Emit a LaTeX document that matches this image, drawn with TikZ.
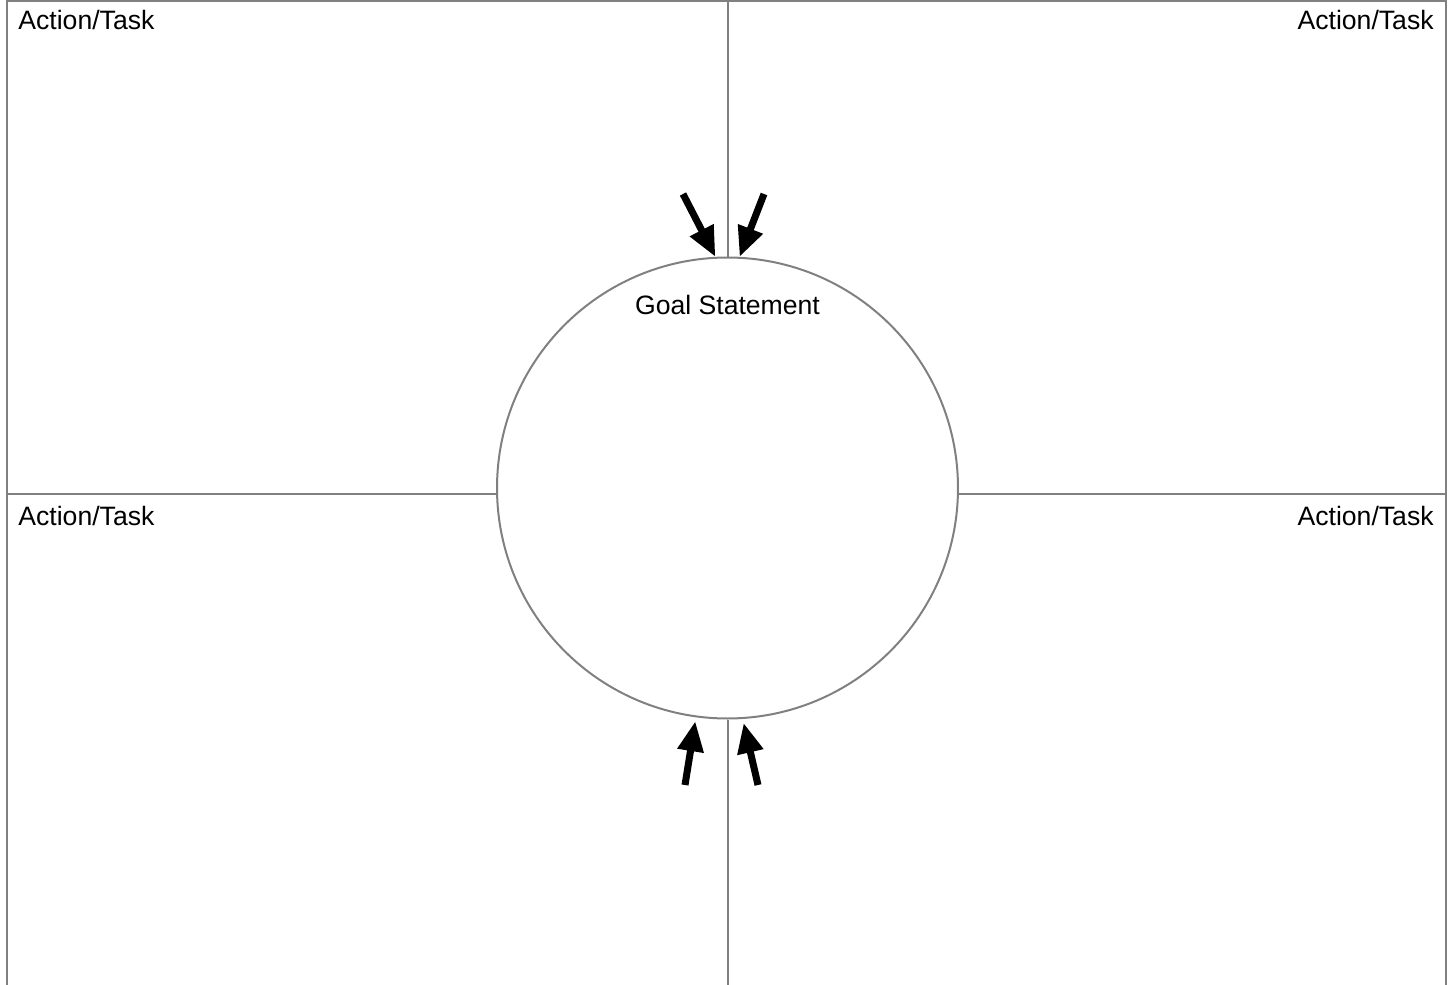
\documentclass[tikz,border=0pt]{standalone}
\usepackage{fontspec}
\setmainfont{Liberation Sans}
\usetikzlibrary{arrows.meta,positioning}

\begin{document}
\begin{tikzpicture}[
  x=0.5pt, y=-0.5pt,
  font=\fontsize{13.3pt}{16pt}\selectfont,
  frame/.style={draw=black!50, line width=1pt},
  goal/.style={circle, draw=black!50, line width=1pt, minimum size=230.5pt, inner sep=0pt},
  tasklbl/.style={inner sep=0pt, text=black},
  push/.style={-{Triangle[length=15pt, width=12.5pt]}, line width=3.5pt, draw=black}
]
  \useasboundingbox (0,0) rectangle (1448,985);

  % --- outer frame (open at the bottom) ---
  \draw[frame] (7,985) -- (7,1) -- (1446,1) -- (1446,985);

  % --- central goal circle ---
  \node[goal] (goal) at (727.5,488) {};
  \node[tasklbl, anchor=base] (gtext) at (727.5,314.5) {Goal Statement};

  % --- quadrant dividers ---
  \draw[frame] (goal.north |- 0,1) -- (goal.north);
  \draw[frame] (goal.south) -- (goal.south |- 0,985);
  \draw[frame] (7,494) -- (goal.west |- 0,494);
  \draw[frame] (goal.east |- 0,494) -- (1446,494);

  % --- quadrant labels ---
  \node[tasklbl, anchor=base west] (tl) at (18,29.5) {Action/Task};
  \node[tasklbl, anchor=base east] (tr) at (1434,29.5) {Action/Task};
  \node[tasklbl, anchor=base west] (bl) at (18,525) {Action/Task};
  \node[tasklbl, anchor=base east] (br) at (1434,525) {Action/Task};

  % --- arrows pointing at the goal ---
  \coordinate (atl) at (683,194);
  \coordinate (atr) at (764,194);
  \coordinate (abl) at (685,785);
  \coordinate (abr) at (758,785);
  \draw[push] (atl) -- (goal.93.8);
  \draw[push] (atr) -- (goal.87);
  \draw[push] (abl) -- ([yshift=-2pt]goal.262.5);
  \draw[push] (abr) -- ([yshift=-2pt]goal.274.6);
\end{tikzpicture}
\end{document}
